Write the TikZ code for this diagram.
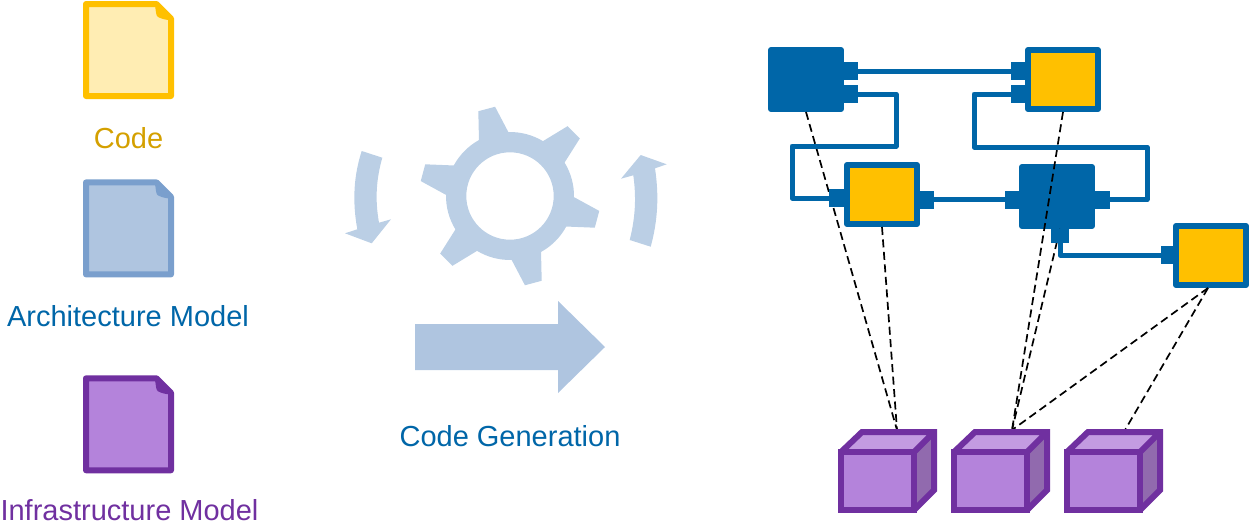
\documentclass[tikz,border=0pt]{standalone}
\usepackage{fontspec}
\setmainfont{Liberation Sans}
\definecolor{wireblue}{HTML}{0066A8}
\definecolor{codeline}{HTML}{FFC000}
\definecolor{codefill}{HTML}{FFEDB3}
\definecolor{archline}{HTML}{7A9FCD}
\definecolor{archfill}{HTML}{AFC5E0}
\definecolor{infraline}{HTML}{7030A0}
\definecolor{infrafill}{HTML}{B483DB}
\definecolor{infratop}{HTML}{C39BE1}
\definecolor{infraside}{HTML}{916AAE}
\definecolor{gearfill}{HTML}{BBCFE5}
\definecolor{codetext}{HTML}{D4A000}
\tikzset{
	label text/.style={font=\fontsize{29}{32}\selectfont,inner sep=0pt},
	block/.style={draw=wireblue,line width=6pt,line join=round,minimum width=70pt,minimum height=59pt,inner sep=0pt,anchor=north west},
	solid block/.style={block,fill=wireblue},
	code block/.style={block,fill=codeline},
	port/.style={fill=wireblue,inner sep=0pt,minimum width=14.5pt,minimum height=18pt},
	wire/.style={draw=wireblue,line width=5pt,line join=round},
	trace/.style={draw=black,line width=1.7pt,dash pattern=on 8pt off 4.5pt},
	cube front/.style={draw=infraline,line width=6pt,fill=infrafill,minimum width=73pt,minimum height=58pt,inner sep=0pt,anchor=north west},
}
% one document icon: top left corner, line colour, fill colour
\newcommand{\docicon}[3]{
	\draw[line width=6pt,draw=#2,fill=#3,line join=round] (86,#1+4) -- (156.5,#1+4) -- (171,#1+18.5) -- (171,#1+96) -- (86,#1+96) -- cycle;
	\fill[#2] (155,#1+5) .. controls (156,#1+12) and (156,#1+16) .. (158,#1+17) .. controls (162,#1+19) and (166,#1+20) .. (170,#1+20) -- cycle;
}
% one cube: left edge of the front, node name
\newcommand{\cubebox}[2]{
	\fill[infratop] (#1+3,452) -- (#1+24,432) -- (#1+96,432) -- (#1+76,452) -- cycle;
	\fill[infraside] (#1+76,452) -- (#1+96,432) -- (#1+96,490) -- (#1+76,510) -- cycle;
	\draw[draw=infraline,line width=6pt,line join=miter] (#1+3,452) -- (#1+24,432) -- (#1+96,432) -- (#1+96,490) -- (#1+76,510) (#1+76,452) -- (#1+96,432);
	\node[cube front] (#2) at (#1,449) {};
}
\begin{document}
\begin{tikzpicture}[x=1pt,y=-1pt]
	\useasboundingbox (0,0) rectangle (1249,522);

	% left column
	\docicon{0}{codeline}{codefill}
	\docicon{178.4}{archline}{archfill}
	\docicon{374.3}{infraline}{infrafill}
	\node[label text,text=codetext] (code label) at (128.5,138) {Code};
	\node[label text,text=wireblue] (arch label) at (128,316) {Architecture Model};
	\node[label text,text=infraline] (infra label) at (129.5,510.5) {Infrastructure Model};

	% gear and the two turning arrows
	\begin{scope}[shift={(510,196)},y=1pt]
		\fill[gearfill,even odd rule] (119:64)
			\foreach \a in {0,-60,...,-300} {
				-- ({\a+119}:64) -- ({\a+110.5}:90.5) -- ({\a+99.5}:90.5) -- ({\a+91.5}:64)
				arc[start angle=\a+91.5,end angle=\a+59,radius=64]
			} -- cycle
			(0,0) circle (43.7);
	\end{scope}
	\fill[gearfill] (361.7,151) -- (382.3,157.7) .. controls (376,180) and (375,200) .. (379,222.7) -- (391,219.3) -- (371.7,243.3) -- (345,233.3) -- (357.3,229.3) .. controls (352,200) and (354,175) .. cycle;
	\fill[gearfill] (650.7,246.7) -- (629.7,240) .. controls (636,215) and (636,195) .. (633.3,175.3) -- (621,178.7) -- (640.7,155) -- (666.7,164.3) -- (655,168.3) .. controls (659,195) and (658,220) .. cycle;

	% big arrow
	\fill[archfill] (415,324) -- (558,324) -- (558,301) -- (605,347) -- (558,393) -- (558,370) -- (415,370) -- cycle;
	\node[label text,text=wireblue] (gen label) at (510,436) {Code Generation};

	% blocks
	\node[solid block] (a) at (768,47) {};
	\node[code block] (b) at (1025,47) {};
	\node[code block] (c) at (844,162) {};
	\node[solid block] (d) at (1019,164) {};
	\node[code block] (e) at (1173,223) {};

	% cube tops for the traces
	\coordinate (top1) at (897,430);
	\coordinate (top2) at (1012,430);
	\coordinate (top3) at (1125,430);

	% traces
	\draw[trace] (a.south) -- (top1);
	\draw[trace] (c.south) -- (top1);
	\draw[trace] (b.south) -- (top2);
	\draw[trace] (d.south) ++(3,0) -- (top2);
	\draw[trace] (e.south) ++(-3,0) -- (top2);
	\draw[trace] (e.south) ++(-3,0) -- (top3);

	% ports
	\node[port] (a1) at (851,71) {};
	\node[port] (a2) at (851,94) {};
	\node[port] (b1) at (1018,71) {};
	\node[port] (b2) at (1018,94) {};
	\node[port] (c1) at (836.5,198) {};
	\node[port] (c2) at (927,199.5) {};
	\node[port] (d1) at (1012,199.5) {};
	\node[port] (d2) at (1102.5,199.5) {};
	\node[port,minimum width=18pt,minimum height=14.5pt] (d3) at (1060,236) {};
	\node[port,minimum width=12.5pt] (e1) at (1167,255) {};

	% wires
	\path[wire] (a1) -- (b1);
	\path[wire] (a2.east) -- (896,94) -- (896,146) -- (792,146) -- (792,198) -- (c1.west);
	\path[wire] (b2.west) -- (974,94) -- (974,147) -- (1147,147) -- (1147,199.5) -- (d2.east);
	\path[wire] (c2) -- (d1);
	\path[wire] (d3.south) -- (1060,255) -- (e1.west);

	% cubes
	\cubebox{838}{cube1}
	\cubebox{951}{cube2}
	\cubebox{1064}{cube3}
\end{tikzpicture}
\end{document}
